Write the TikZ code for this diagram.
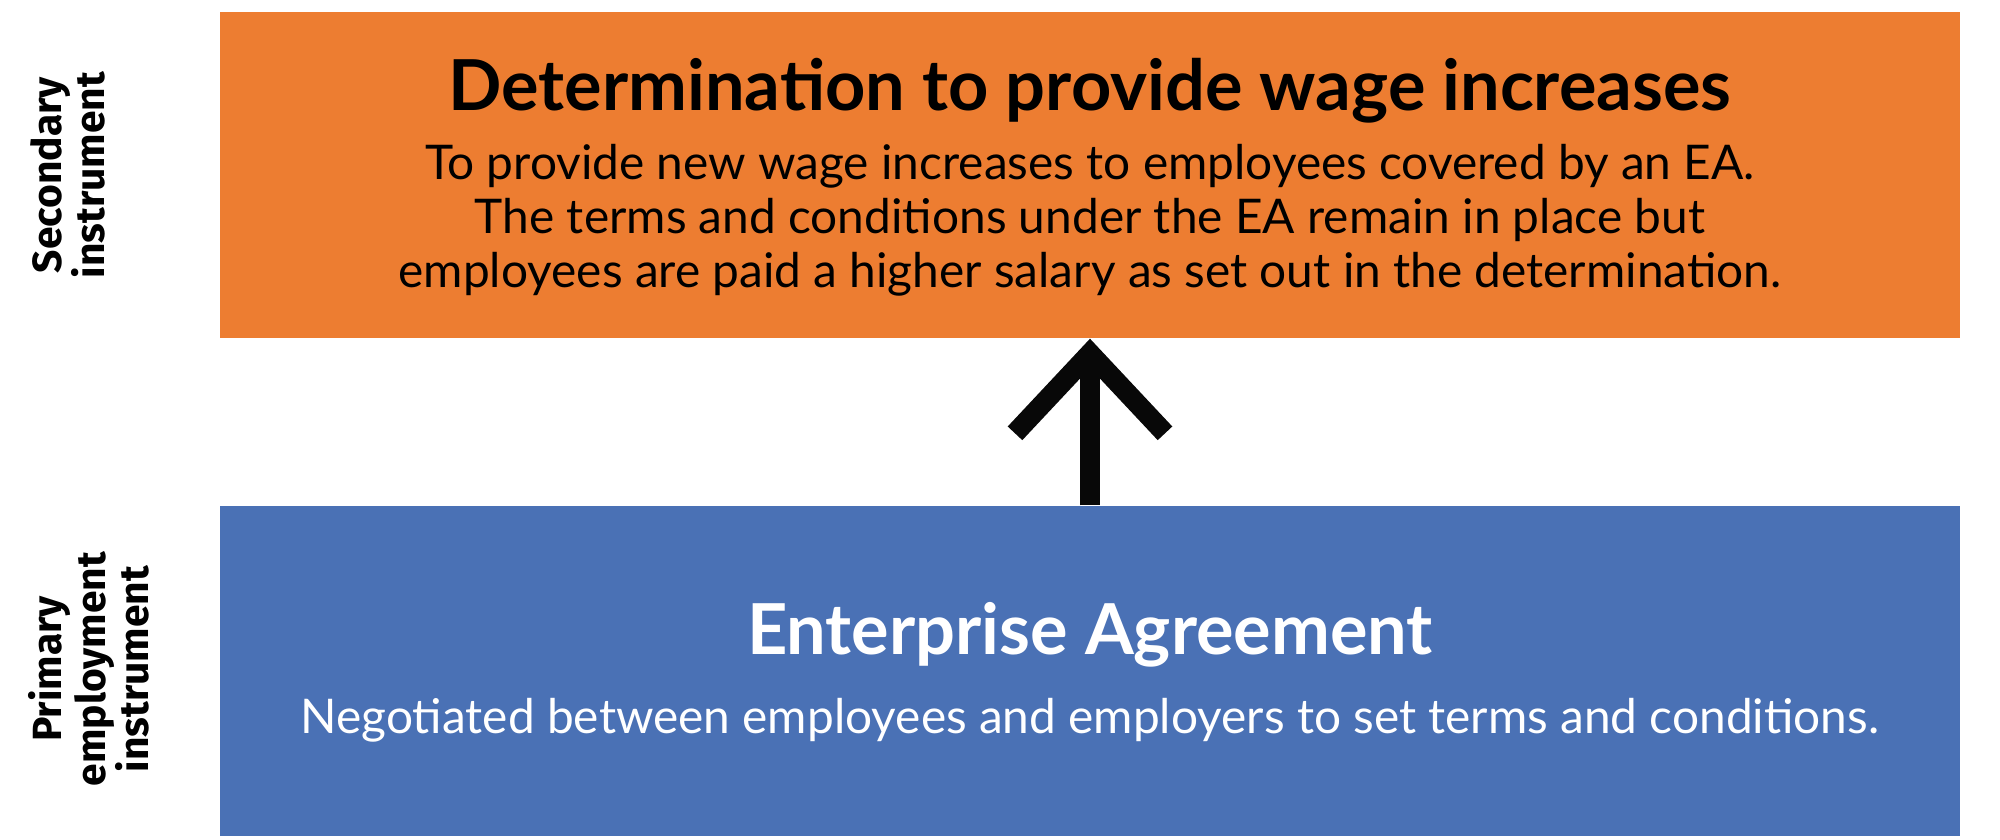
\documentclass[tikz,border=0pt]{standalone}
\usepackage{fontspec}
\setmainfont{Lato}
\newfontfamily\sidefont{Fira Sans}
\usetikzlibrary{arrows.meta, positioning}
\definecolor{detorange}{HTML}{ED7D31}
\definecolor{eablue}{HTML}{4A71B5}
\definecolor{arrowblack}{HTML}{080808}

\begin{document}
\begin{tikzpicture}[
    box/.style={rectangle, minimum width=17.4cm, inner sep=0pt},
    boxtitle/.style={anchor=base, font=\fontsize{20}{24}\selectfont\bfseries},
    boxtext/.style={anchor=base, align=center, font=\fontsize{13.6}{15.5}\selectfont},
    side/.style={rotate=90, align=center, font=\sidefont\bfseries\fontsize{11.6}{12.4}\selectfont},
    arrow/.style={-{Straight Barb[length=0.8cm, width=1.5cm]}, line width=0.2cm, arrowblack}
]
    \useasboundingbox (0,0) rectangle (20,8.4);

    % Secondary instrument: determination
    \node[box, fill=detorange, minimum height=3.26cm] (det) at (10.9, 6.65) {};
    \node[boxtitle] (dettitle) at (10.9, 7.293) {Determination to provide wage increases};
    \node[boxtext] (dettext) at (10.9, 5.52) {To provide new wage increases to employees covered by an EA.\\
        The terms and conditions under the EA remain in place but\\
        employees are paid a higher salary as set out in the determination.};

    % Primary instrument: enterprise agreement
    \node[box, fill=eablue, minimum height=3.3cm] (ea) at (10.9, 1.69) {};
    \node[boxtitle, white] (eatitle) at (10.9, 1.85) {Enterprise Agreement};
    \node[boxtext, white] (eatext) at (10.9, 1.06) {Negotiated between employees and employers to set terms and conditions.};

    % Side labels
    \node[side] (seclabel) at (0.68, 6.65) {Secondary\\instrument};
    \node[side] (primlabel) at (0.89, 1.71) {Primary\\employment\\instrument};

    \draw[arrow] (ea) -- (det);
\end{tikzpicture}
\end{document}
